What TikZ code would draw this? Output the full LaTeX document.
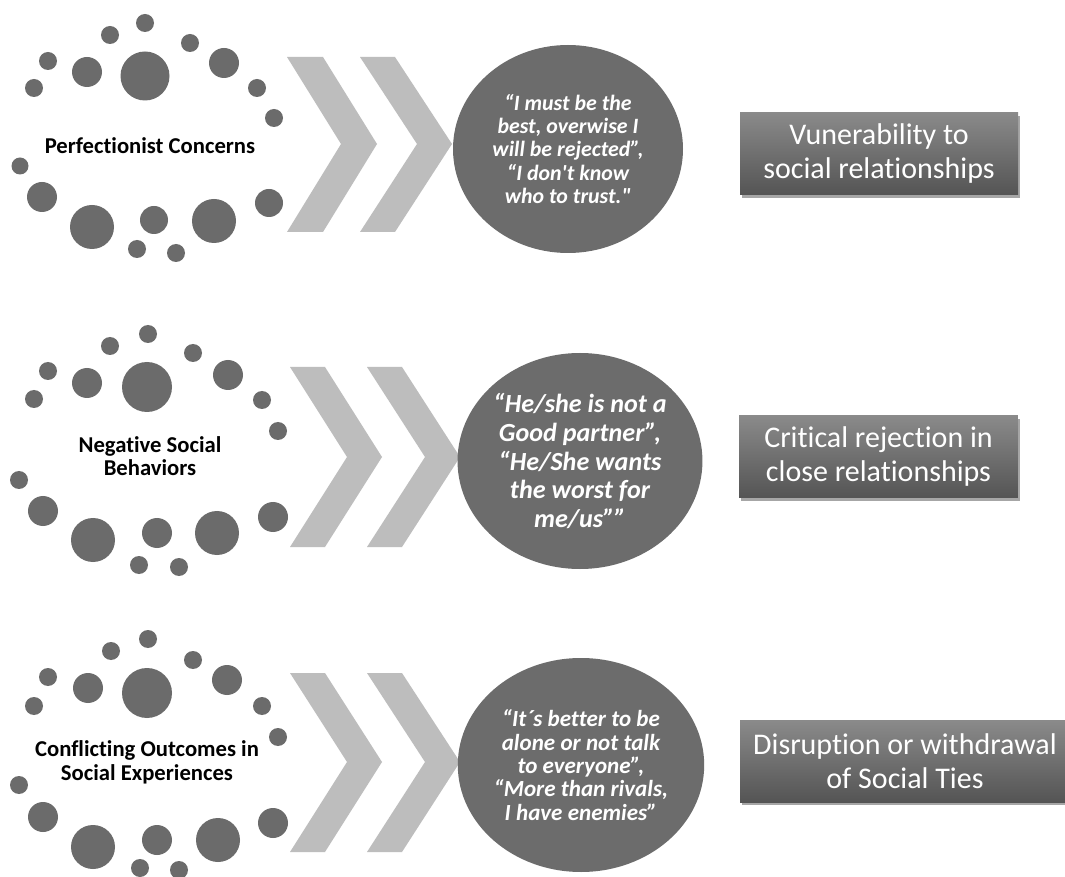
\documentclass[tikz,border=0pt]{standalone}
\usepackage{fontspec}
\setmainfont{Carlito}[Ligatures={TeXOff,CommonOff}]
\usetikzlibrary{shapes.geometric,shadows}
\definecolor{dotc}{RGB}{107,107,107}
\definecolor{chev}{RGB}{189,189,189}
\definecolor{bigc}{RGB}{108,108,108}
\definecolor{boxtop}{RGB}{138,138,138}
\definecolor{boxbot}{RGB}{84,84,84}
\begin{document}
\begin{tikzpicture}[x=0.75pt,y=-0.75pt,
  dot/.style={fill=dotc},
  chevron/.style={fill=chev},
  quote/.style={ellipse, fill=bigc, text=white, align=center, inner sep=0pt},
  outbox/.style={rectangle, top color=boxtop, bottom color=boxbot, text=white, align=center,
     minimum height=61.5pt, inner sep=0pt,
     drop shadow={shadow xshift=1.5pt, shadow yshift=-2pt, opacity=0.35, fill=black},
     font=\fontsize{22.5}{25.5}\selectfont},
  lbl/.style={font=\bfseries\fontsize{17}{17.8}\selectfont, align=center, text=black}
]
\useasboundingbox (0,0) rectangle (1065,877);
\fill[white] (0,0) rectangle (1065,877);

% ---- dot rings ----
\foreach \x/\y/\r in {145/23/9,110/35/9,190/43/9,48/61/9,87/72/15,145/76/24.5,224/63/15,34/88/9,257/88/9,274/118/9,20/166/8.5,42/197/15,92/227/22,154/220/14,214/221/22,269/203/14,137/249/9,176/253/9}
  \fill[dot] (\x,\y) circle[radius=\r*0.75pt];
\foreach \x/\y/\r in {148/334/9,110/346/9,193/353/9,48/371/9,87/383/15,147/387/25,228/375/15,34/399/9,262/400/9,278/431/9,19/480/9,43/511/15,93/540/22,157/533/15,217/533/22,273/517/15,139/565/9,179/567/9}
  \fill[dot] (\x,\y) circle[radius=\r*0.75pt];
\foreach \x/\y/\r in {148/639/9,111/651/9,193/660/9,48/677/9,88/688/15,147/693/25,227/680/15,34/706/9,262/706/9,278/737/9,19/785/9,43/817/15,93/847/22,157/840/15,218/840/22,273/823/15,140/868/9,179/870/9}
  \fill[dot] (\x,\y) circle[radius=\r*0.75pt];

% ---- labels ----
\node[lbl] (l1) at (150,146) {Perfectionist Concerns};
\node[lbl] (l2) at (150,456) {Negative Social\\Behaviors};
\node[lbl] (l3) at (147,762) {Conflicting Outcomes in\\Social Experiences};

% ---- chevrons ----
\fill[chevron] (287,57) -- (323,57) -- (377,144) -- (323,232) -- (287,232) -- (341,144) -- cycle;
\fill[chevron] (360,57) -- (395,57) -- (452,144) -- (395,232) -- (360,232) -- (417,144) -- cycle;
\fill[chevron] (290,367) -- (325,367) -- (382,457) -- (325,547) -- (290,547) -- (347,457) -- cycle;
\fill[chevron] (367,367) -- (402,367) -- (460,457) -- (402,547) -- (367,547) -- (425,457) -- cycle;
\fill[chevron] (290,673) -- (325,673) -- (382,762) -- (325,852) -- (290,852) -- (347,762) -- cycle;
\fill[chevron] (367,673) -- (402,673) -- (460,762) -- (402,852) -- (367,852) -- (425,762) -- cycle;

% ---- quote ellipses ----
\node[quote, minimum width=172.5pt, minimum height=156pt,
      font=\bfseries\itshape\fontsize{16.4}{17.6}\selectfont] (q1) at (568,149)
  {“I must be the\\best, overwise I\\will be rejected”,\\“I don't know\\who to trust."};
\node[quote, minimum width=177pt, minimum height=162pt,
      font=\bfseries\itshape\fontsize{19.6}{21.5}\selectfont] (q2) at (580,461)
  {“He/she is not a\\Good partner”,\\“He/She wants\\the worst for\\me/us””};
\node[quote, minimum width=178.5pt, minimum height=160.5pt,
      font=\bfseries\itshape\fontsize{17.3}{17.5}\selectfont] (q3) at (581,765)
  {“It´s better to be\\alone or not talk\\to everyone”,\\“More than rivals,\\I have enemies”};

% ---- outcome boxes ----
\node[outbox, minimum width=208.5pt] (b1) at (879,154) {Vunerability to\\social relationships};
\node[outbox, minimum width=209pt] (b2) at (878.5,457) {Critical rejection in\\close relationships};
\node[outbox, minimum width=247.5pt] (b3) at (905,761.5) {Disruption or withdrawal\\of Social Ties};
\end{tikzpicture}
\end{document}
